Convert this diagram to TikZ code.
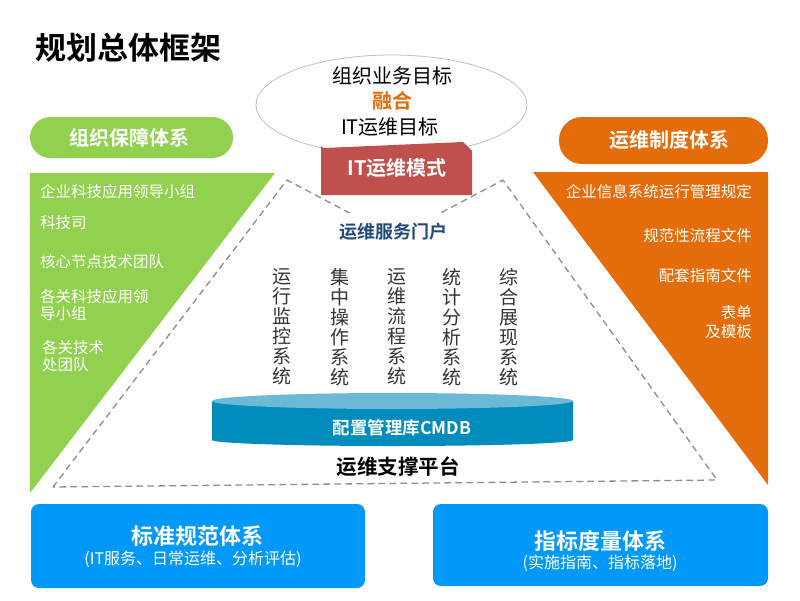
\documentclass[tikz,border=0pt]{standalone}
\usepackage{fontspec}
\setmainfont{Noto Sans CJK SC}[BoldFont={Noto Sans CJK SC Bold}]

\definecolor{groupgreen}{HTML}{92D050}
\definecolor{ruleorange}{HTML}{E46C0A}
\definecolor{moderred}{HTML}{C0504D}
\definecolor{boxblue}{HTML}{0099FA}
\definecolor{portalblue}{HTML}{1F497D}
\definecolor{dbtop}{HTML}{6CB9D6}
\definecolor{dbside}{HTML}{008CBC}

\newcommand{\fsz}[1]{\fontsize{#1}{#1}\selectfont}

\begin{document}
\begin{tikzpicture}[
  x=1pt, y=-1pt,
  line cap=round,
  line join=round,
  pilltext/.style={text=white, font=\fsz{20}\bfseries},
  sidetext/.style={text=white, font=\fsz{15.5}, align=left, inner sep=0pt},
  systext/.style={text=black!80, font=\fontsize{19}{20}\selectfont,
    align=center, inner sep=0pt},
  bluebox/.style={fill=boxblue, rounded corners=8pt}
]
  \useasboundingbox (0,0) rectangle (800,600);

  % Заголовок
  \node[anchor=west, font=\fsz{31}\bfseries, inner sep=0pt]
    (title) at (35,48) {规划总体框架};

  % Цели
  \draw[black!25, line width=0.8pt]
    (391.5,105)
    ellipse[x radius=135.5, y radius=50];

  \node[font=\fsz{20}, inner sep=0pt] (goalorg) at (392,76) {组织业务目标};
  \node[font=\fsz{20}\bfseries, text=ruleorange, inner sep=0pt]
    (merge) at (392,101) {融合};
  \node[font=\fsz{20}, inner sep=0pt] (goalit) at (390,127) {IT运维目标};

  % Пунктирная рамка платформы
  \draw[black!45, line width=1.3pt, dash pattern=on 6pt off 5pt]
    (53,487) -- (287,180) -- (395,237) -- (503,180)
    -- (717,480) -- cycle;

  % Модель
  \fill[moderred]
    (321,195) -- (321,145)
    arc[start angle=180, end angle=90, radius=3]
    -- (463,142) -- (472,151) -- (472,195) -- cycle;
  \node[pilltext] (mode) at (397,168) {IT运维模式};

  % Левый блок
  \fill[groupgreen, rounded corners=20.5pt]
    (30,117) rectangle (233,158);
  \node[pilltext] (orghead) at (129,138) {组织保障体系};

  \fill[groupgreen]
    (30,173) -- (275,173) -- (30,493) -- cycle;

  \node[sidetext, anchor=west] (org1) at (40,192) {企业科技应用领导小组};
  \node[sidetext, anchor=west] (org2) at (40,223) {科技司};
  \node[sidetext, anchor=west] (org3) at (40,262) {核心节点技术团队};
  \node[sidetext, anchor=west, font=\fontsize{15.5}{17.5}\selectfont]
    (org4) at (40,305) {各关科技应用领\\导小组};
  \node[sidetext, anchor=west, font=\fontsize{15.5}{17.5}\selectfont]
    (org5) at (42,356) {各关技术\\处团队};

  % Правый блок
  \fill[ruleorange, rounded corners=23pt]
    (559,117) rectangle (768,164);
  \node[pilltext] (rulehead) at (669,140) {运维制度体系};

  \fill[ruleorange]
    (533,172) -- (768,172) -- (768,485) -- cycle;

  \node[sidetext, anchor=east] (rule1) at (752,192) {企业信息系统运行管理规定};
  \node[sidetext, anchor=east] (rule2) at (752,236) {规范性流程文件};
  \node[sidetext, anchor=east] (rule3) at (752,276) {配套指南文件};
  \node[sidetext, anchor=east, align=right,
    font=\fontsize{15.5}{19}\selectfont]
    (rule4) at (752,322) {表单\\及模板};

  % Портал
  \node[fill=white, minimum width=112pt, minimum height=38pt,
    font=\fsz{18}\bfseries, text=portalblue]
    (portal) at (393,232) {运维服务门户};

  % Системы
  \node[systext] (sys1) at (282,327) {运\\行\\监\\控\\系\\统};
  \node[systext] (sys2) at (340,327) {集\\中\\操\\作\\系\\统};
  \node[systext] (sys3) at (397,327) {运\\维\\流\\程\\系\\统};
  \node[systext] (sys4) at (452,327) {统\\计\\分\\析\\系\\统};
  \node[systext] (sys5) at (509,327) {综\\合\\展\\现\\系\\统};

  % CMDB
  \fill[dbside]
    (212,401) rectangle (573,440);
  \fill[dbside]
    (392.5,440)
    ellipse[x radius=180.5, y radius=6];
  \fill[dbtop]
    (392.5,401)
    ellipse[x radius=180.5, y radius=8];
  \node[text=white, font=\fsz{17.5}\bfseries] (cmdb) at (402,428) {配置管理库CMDB};

  \node[font=\fsz{20.5}\bfseries] (support) at (398,467) {运维支撑平台};

  % Нижние блоки
  \fill[bluebox]
    (31,504) rectangle (365,588);
  \node[pilltext, font=\fsz{22}\bfseries] (stdhead) at (197,536) {标准规范体系};
  \node[text=white, font=\fsz{16}] (stdsub) at (193,559)
    {(IT服务、日常运维、分析评估)};

  \fill[bluebox]
    (433,504) rectangle (768,586);
  \node[pilltext, font=\fsz{22}\bfseries] (idxhead) at (600,541) {指标度量体系};
  \node[text=white, font=\fsz{16}] (idxsub) at (600,563)
    {(实施指南、指标落地)};
\end{tikzpicture}
\end{document}
